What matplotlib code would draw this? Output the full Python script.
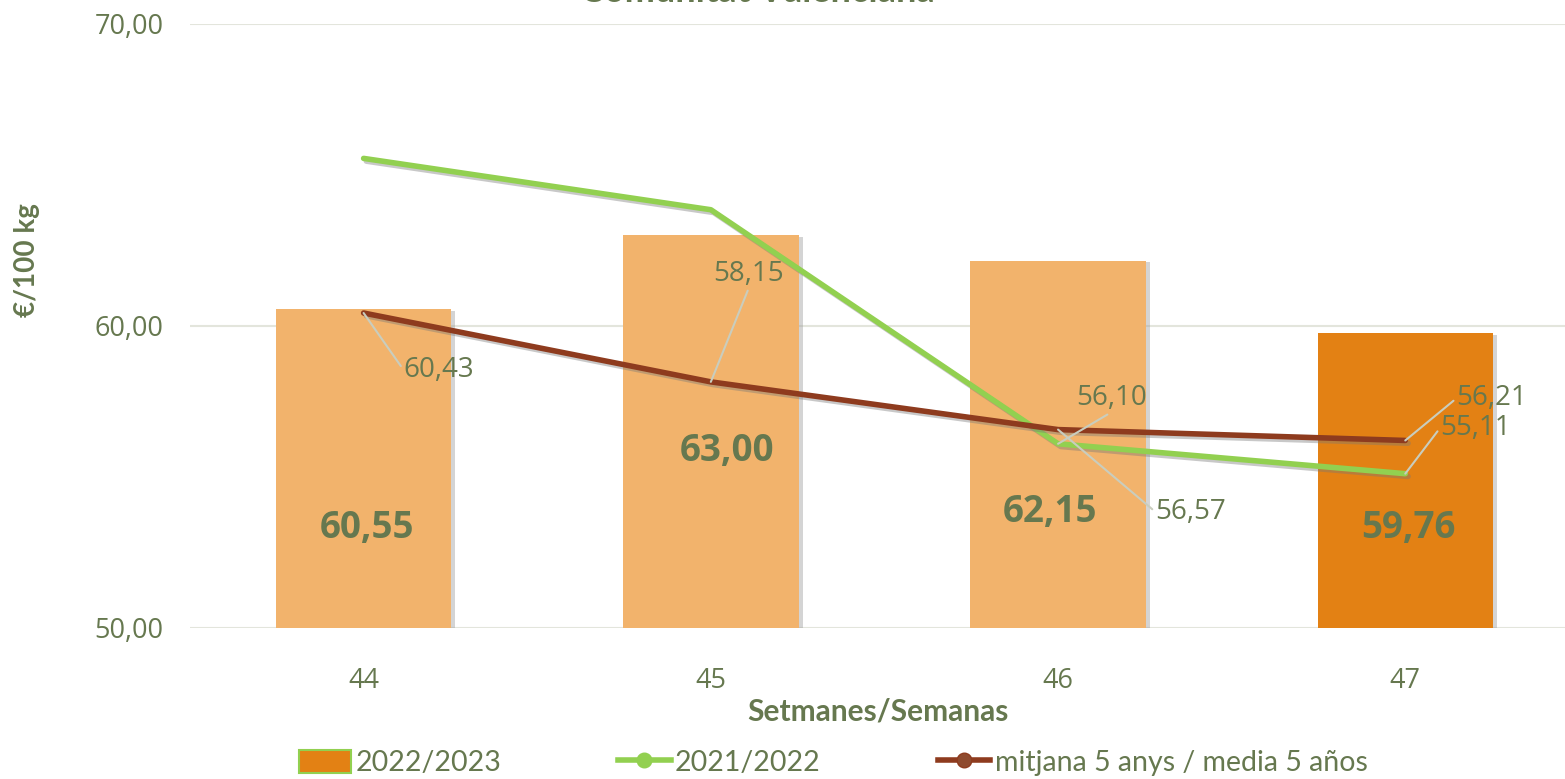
import matplotlib.pyplot as plt
import matplotlib.patheffects as pe
from matplotlib.lines import Line2D
from matplotlib.patches import Patch

# Dades
setmanes = ['44', '45', '46', '47']
preu_2022_2023 = [60.55, 63.00, 62.15, 59.76]
preu_2021_2022 = [65.55, 63.85, 56.10, 55.11]
mitjana_5_anys = [60.43, 58.15, 56.57, 56.21]

# Colors
verd_text = '#66784F'
taronja_clar = '#F2B36C'
taronja = '#E38114'
verd = '#92D050'
marro = '#8E3B1E'
gris_linia = '#C9CDBE'

narrow = ['Lato', 'DejaVu Sans']
plt.rcParams['font.family'] = ['Open Sans', 'DejaVu Sans']

fig = plt.figure(figsize=(15.65, 7.79), dpi=100)
ax = fig.add_axes([190 / 1565, 1 - 628 / 779, 1 - 190 / 1565, (628 - 24) / 779])

x = list(range(len(setmanes)))
colors = [taronja_clar] * (len(setmanes) - 1) + [taronja]
shadow = [pe.SimplePatchShadow(offset=(3, -1), shadow_rgbFace='#A0A0A0', alpha=0.45), pe.Normal()]
bars = ax.bar(x, preu_2022_2023, width=0.505, color=colors, zorder=2)
for b in bars:
    b.set_path_effects(shadow)

line_shadow = [pe.SimpleLineShadow(offset=(2, -2), shadow_color='#777777', alpha=0.4), pe.Normal()]
ax.plot(x, preu_2021_2022, color=verd, lw=4, solid_capstyle='round', zorder=3, path_effects=line_shadow)
ax.plot(x, mitjana_5_anys, color=marro, lw=4, solid_capstyle='round', zorder=4, path_effects=line_shadow)

ax.set_ylim(50, 70)
ax.set_xlim(-0.5, 3.46)
ax.set_yticks([50, 60, 70])
ax.set_yticklabels(['50,00', '60,00', '70,00'])
ax.set_xticks(x)
ax.set_xticklabels(setmanes)
ax.tick_params(axis='both', length=0, labelsize=19.5, labelcolor=verd_text)
ax.tick_params(axis='x', pad=28)
ax.tick_params(axis='y', pad=19)
ax.grid(axis='y', color='#E3E5DC', lw=1.5, zorder=0)
ax.set_axisbelow(True)
for s in ax.spines.values():
    s.set_visible(False)

def fmt(v):
    return f'{v:.2f}'.replace('.', ',')

# Etiquetes de les barres
bar_label_pos = [(0.01, 53.3), (1.046, 55.87), (1.977, 53.84), (3.01, 53.31)]
for (bx, by), v in zip(bar_label_pos, preu_2022_2023):
    ax.text(bx, by, fmt(v), ha='center', va='center', fontsize=26.5, fontweight='bold',
            color=verd_text, zorder=6)

# Etiquetes de les línies (desplaçament en píxels)
def label(i, v, dx, dy, ha, va, rel):
    ax.annotate(fmt(v), xy=(i, v), xytext=(dx, dy), textcoords='offset pixels',
                ha=ha, va=va, fontsize=20, color=verd_text, zorder=6,
                arrowprops=dict(arrowstyle='-', color=gris_linia, lw=1.5,
                                shrinkA=0, shrinkB=0, relpos=rel))

label(0, mitjana_5_anys[0], 40, -57, 'left', 'center', (0, 0.5))
label(1, mitjana_5_anys[1], 38, 108, 'center', 'center', (0.5, 0))
label(2, preu_2021_2022[2], 54, 46, 'center', 'center', (0.5, 0))
label(2, mitjana_5_anys[2], 97, -82, 'left', 'center', (0, 0.5))
label(3, mitjana_5_anys[3], 51, 42, 'left', 'center', (0, 0.5))
label(3, preu_2021_2022[3], 35, 46, 'left', 'center', (0, 0.5))

# Títols d'eixos
fig.text(27 / 1565, 1 - 260 / 779, '€/100 kg', rotation=90, ha='center', va='center',
         fontsize=20, fontweight='bold', color=verd_text, family=narrow)
fig.text(878 / 1565, 1 - 712 / 779, 'Setmanes/Semanas', ha='center', va='center',
         fontsize=21.5, fontweight='bold', color=verd_text, family=narrow)
fig.text(757 / 1565, 1 - 2 / 779, 'Comunitat Valenciana', ha='center', va='baseline',
         fontsize=26, fontweight='bold', color=verd_text, family=narrow)

# Llegenda
handles = [
    Patch(facecolor=taronja, edgecolor=verd, lw=1.5),
    Line2D([], [], color=verd, lw=4, marker='o', markersize=10.5),
    Line2D([], [], color=marro, lw=4, marker='o', markersize=10.5, markerfacecolor='#8E4A2E'),
]
labels = ['2022/2023', '2021/2022', 'mitjana 5 anys / media 5 años']
leg = fig.legend(handles, labels, loc='center', bbox_to_anchor=(833 / 1565, 1 - 763 / 779),
                 ncol=3, frameon=False, handlelength=1.85, handleheight=0.85,
                 handletextpad=0.15, columnspacing=4.1, prop={'family': narrow, 'size': 20.5})
for t in leg.get_texts():
    t.set_color(verd_text)

fig.savefig('out.png', dpi=100)
